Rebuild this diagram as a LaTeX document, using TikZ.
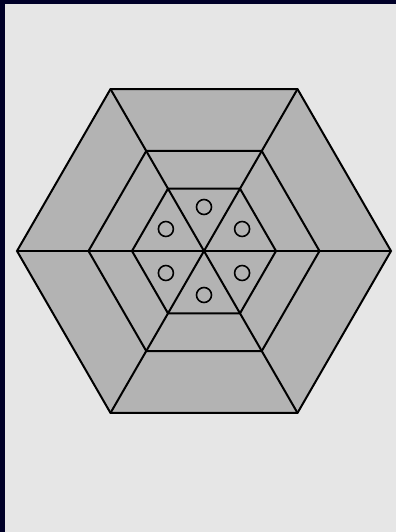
\documentclass[tikz,border=0pt]{standalone}
\usetikzlibrary{calc}
\definecolor{pagebg}{RGB}{230,230,230}
\definecolor{cellfill}{RGB}{179,179,179}
\definecolor{framenavy}{RGB}{0,0,135}
\definecolor{framedark}{RGB}{0,0,40}

\begin{document}
\begin{tikzpicture}[x=1pt, y=1pt,
    ring/.style={draw=black, line width=2pt, line join=miter},
    spoke/.style={draw=black, line width=2pt},
    hole/.style={circle, draw=black, line width=1.6pt, minimum size=15pt, inner sep=0pt},
  ]
  % page and frame
  \useasboundingbox (-204,-281) rectangle (192,251);
  \fill[pagebg] (-204,-281) rectangle (192,251);
  \shade[top color=framedark, middle color=framenavy, bottom color=framedark]
    (-204,-281) rectangle (-199,251);
  \fill[framedark] (-204,247) rectangle (192,251);

  % hexagon corners
  \foreach \r/\n in {187/outer, 115.5/middle, 72/inner}
    \foreach \k in {0,...,5}
      \coordinate (\n-\k) at (60*\k:\r);

  \fill[cellfill] (outer-0) -- (outer-1) -- (outer-2) -- (outer-3) -- (outer-4) -- (outer-5) -- cycle;

  \foreach \n in {outer, middle, inner}
    \draw[ring] (\n-0) -- (\n-1) -- (\n-2) -- (\n-3) -- (\n-4) -- (\n-5) -- cycle;

  \foreach \k/\j in {0/3, 1/4, 2/5}
    \draw[spoke] (outer-\k) -- (outer-\j);

  % holes
  \foreach \a [count=\i] in {30, 90, 150, 210, 270, 330}
    \node[hole] (hole-\i) at (\a:44) {};
\end{tikzpicture}
\end{document}
